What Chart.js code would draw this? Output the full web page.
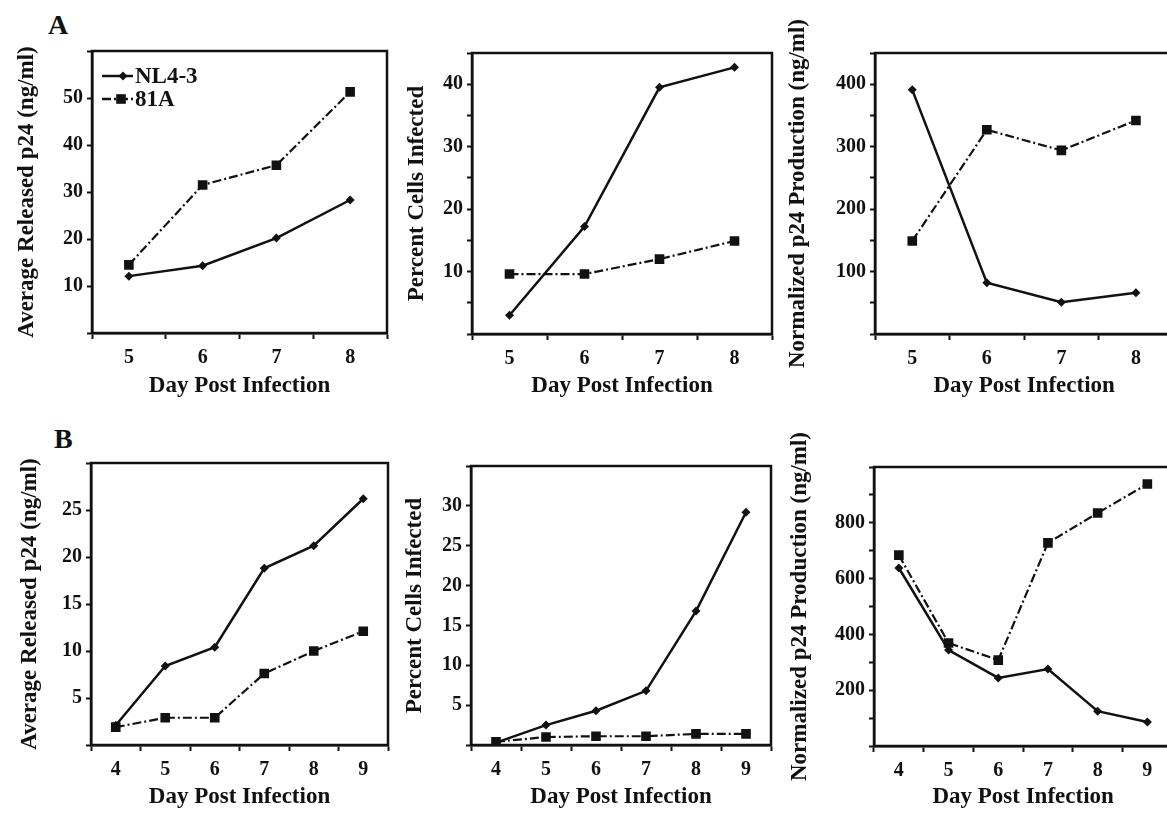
<!DOCTYPE html>
<html>
<head>
<meta charset="utf-8">
<script src="https://cdn.jsdelivr.net/npm/chart.js@4.4.1/dist/chart.umd.min.js"></script>
<style>
  body { margin: 0; background: #fff; overflow: hidden; width: 1167px; height: 813px; position: relative; }
  .panel { position: absolute; }
  .letter { position: absolute; font: bold 28px 'Liberation Serif', 'Times New Roman', serif; line-height: 1; color: #111; }
</style>
</head>
<body>
<div class="letter" style="left:48px;top:11px">A</div>
<div class="letter" style="left:54px;top:425px">B</div>

<div class="panel" style="left:0px;top:0px;width:395px;height:402px"><canvas id="chartA1"></canvas></div>
<div class="panel" style="left:395px;top:0px;width:385px;height:402px"><canvas id="chartA2"></canvas></div>
<div class="panel" style="left:780px;top:0px;width:400px;height:402px"><canvas id="chartA3"></canvas></div>
<div class="panel" style="left:0px;top:415px;width:396px;height:398px"><canvas id="chartB1"></canvas></div>
<div class="panel" style="left:396px;top:415px;width:384px;height:398px"><canvas id="chartB2"></canvas></div>
<div class="panel" style="left:780px;top:415px;width:399px;height:398px"><canvas id="chartB3"></canvas></div>

<script>
// days on the x axis
const daysA = ['5', '6', '7', '8'];
const daysB = ['4', '5', '6', '7', '8', '9'];

// experiment A
const releasedA_NL43 = [12.1, 14.3, 20.2, 28.3];
const releasedA_81A = [14.5, 31.5, 35.7, 51.3];
const infectedA_NL43 = [3.0, 17.2, 39.5, 42.7];
const infectedA_81A = [9.6, 9.6, 12.0, 14.9];
const normalizedA_NL43 = [391, 82, 51, 66];
const normalizedA_81A = [149, 327, 294, 342];

// experiment B
const releasedB_NL43 = [2.1, 8.4, 10.4, 18.8, 21.2, 26.2];
const releasedB_81A = [1.9, 2.9, 2.9, 7.6, 10.0, 12.1];
const infectedB_NL43 = [0.3, 2.5, 4.3, 6.8, 16.8, 29.2];
const infectedB_81A = [0.4, 1.0, 1.1, 1.1, 1.4, 1.4];
const normalizedB_NL43 = [638, 344, 244, 276, 125, 86];
const normalizedB_81A = [684, 369, 308, 728, 835, 939];

// y ticks that get a label
const ticksA1 = [10, 20, 30, 40, 50];
const ticksA2 = [10, 20, 30, 40];
const ticksA3 = [100, 200, 300, 400];
const ticksB1 = [5, 10, 15, 20, 25];
const ticksB2 = [5, 10, 15, 20, 25, 30];
const ticksB3 = [200, 400, 600, 800];

const seriesNames = ['NL4-3', '81A'];

const serif = "'Liberation Serif', 'Times New Roman', serif";
const ink = '#111';
const dashDot = [9, 3, 2, 3];

// box around the plot area (top and right side)
const framePlugin = {
    id: 'frame',
    beforeDatasetsDraw(chart) {
        const a = chart.chartArea;
        const ctx = chart.ctx;
        ctx.save();
        ctx.strokeStyle = ink;
        ctx.lineWidth = 2.5;
        ctx.strokeRect(a.left, a.top, a.right - a.left, a.bottom - a.top);
        ctx.restore();
    }
};

// legend drawn inside the first plot: a short line with its marker
const lineLegendPlugin = {
    id: 'lineLegend',
    afterDraw(chart) {
        const a = chart.chartArea;
        const ctx = chart.ctx;
        ctx.save();
        chart.data.datasets.forEach((ds, i) => {
            const y = a.top + 25 + i * 23;
            const x0 = a.left + 10;
            const x1 = a.left + 41;
            ctx.strokeStyle = ink;
            ctx.fillStyle = ink;
            ctx.lineWidth = 2.5;
            ctx.setLineDash(ds.borderDash || []);
            ctx.beginPath();
            ctx.moveTo(x0, y);
            ctx.lineTo(x1, y);
            ctx.stroke();
            ctx.setLineDash([]);
            const mx = a.left + (i === 0 ? 31 : 29);
            ctx.beginPath();
            if (ds.pointStyle === 'rectRot') {
                const r = ds.pointRadius;
                ctx.moveTo(mx - r, y);
                ctx.lineTo(mx, y - r);
                ctx.lineTo(mx + r, y);
                ctx.lineTo(mx, y + r);
                ctx.closePath();
            } else {
                const s = ds.pointRadius * Math.SQRT1_2;
                ctx.rect(mx - s, y - s, 2 * s, 2 * s);
            }
            ctx.fill();
            ctx.font = 'bold 23px ' + serif;
            ctx.textBaseline = 'middle';
            ctx.textAlign = 'left';
            ctx.fillText(ds.label, x1 + 2, y + 1);
        });
        ctx.restore();
    }
};

function makePanel(id, days, nl, v81, yMax, yStep, shownTicks, yTitle, box, withLegend) {
    const plugins = [framePlugin];
    if (withLegend) plugins.push(lineLegendPlugin);

    return new Chart(document.getElementById(id), {
        type: 'line',
        data: {
            labels: days,
            datasets: [{
                label: seriesNames[0],
                data: nl,
                borderColor: ink,
                borderWidth: 2.5,
                pointStyle: 'rectRot',
                pointRadius: 4.5,
                pointBackgroundColor: ink,
                pointBorderWidth: 0,
                tension: 0
            }, {
                label: seriesNames[1],
                data: v81,
                borderColor: ink,
                borderWidth: 2.2,
                borderDash: dashDot,
                pointStyle: 'rect',
                pointRadius: 6.8,
                pointBackgroundColor: ink,
                pointBorderWidth: 0,
                tension: 0
            }]
        },
        options: {
            responsive: true,
            maintainAspectRatio: false,
            animation: false,
            layout: {
                padding: { top: box.padTop, right: box.padRight, left: 0, bottom: 0 }
            },
            plugins: {
                legend: { display: false },
                tooltip: { enabled: false }
            },
            scales: {
                x: {
                    offset: true,
                    grid: {
                        offset: true,
                        drawOnChartArea: false,
                        tickLength: 6,
                        tickWidth: 2,
                        tickColor: ink
                    },
                    border: { color: ink, width: 2.5 },
                    ticks: {
                        color: ink,
                        padding: 7,
                        autoSkip: false,
                        maxRotation: 0,
                        font: { family: serif, size: 20, weight: 'bold' }
                    },
                    title: {
                        display: true,
                        text: 'Day Post Infection',
                        color: ink,
                        padding: { top: 0, bottom: 2 },
                        font: { family: serif, size: 23, weight: 'bold' }
                    },
                    afterFit: (s) => { s.height = box.xAxisH; }
                },
                y: {
                    min: 0,
                    max: yMax,
                    grid: {
                        drawOnChartArea: false,
                        tickLength: 5,
                        tickWidth: 2,
                        tickColor: ink
                    },
                    border: { color: ink, width: 2.5 },
                    ticks: {
                        stepSize: yStep,
                        color: ink,
                        padding: 4,
                        autoSkip: false,
                        font: { family: serif, size: 20, weight: 'bold' },
                        callback: function (value) {
                            return shownTicks.includes(value) ? value : '';
                        }
                    },
                    title: {
                        display: true,
                        text: yTitle,
                        color: ink,
                        padding: { top: box.titlePad, bottom: 0 },
                        font: { family: serif, size: 23, weight: 'bold' }
                    },
                    afterFit: (s) => { s.width = box.yAxisW; }
                }
            }
        },
        plugins: plugins
    });
}

const titleReleased = 'Average Released p24 (ng/ml)';
const titleInfected = 'Percent Cells Infected';
const titleNormalized = 'Normalized p24 Production (ng/ml)';

makePanel('chartA1', daysA, releasedA_NL43, releasedA_81A, 60, 10, ticksA1, titleReleased,
    { yAxisW: 92, xAxisH: 69, padTop: 51, padRight: 8, titlePad: 13 }, true);
makePanel('chartA2', daysA, infectedA_NL43, infectedA_81A, 45, 5, ticksA2, titleInfected,
    { yAxisW: 77, xAxisH: 68, padTop: 53, padRight: 8, titlePad: 8 }, false);
makePanel('chartA3', daysA, normalizedA_NL43, normalizedA_81A, 450, 50, ticksA3, titleNormalized,
    { yAxisW: 95, xAxisH: 68, padTop: 53, padRight: 6, titlePad: 4 }, false);

makePanel('chartB1', daysB, releasedB_NL43, releasedB_81A, 30, 5, ticksB1, titleReleased,
    { yAxisW: 91, xAxisH: 68, padTop: 48, padRight: 8, titlePad: 16 }, false);
makePanel('chartB2', daysB, infectedB_NL43, infectedB_81A, 35, 5, ticksB2, titleInfected,
    { yAxisW: 75, xAxisH: 68, padTop: 51, padRight: 9, titlePad: 5 }, false);
makePanel('chartB3', daysB, normalizedB_NL43, normalizedB_81A, 1000, 100, ticksB3, titleNormalized,
    { yAxisW: 94, xAxisH: 67, padTop: 52, padRight: 6, titlePad: 6 }, false);
</script>
</body>
</html>
